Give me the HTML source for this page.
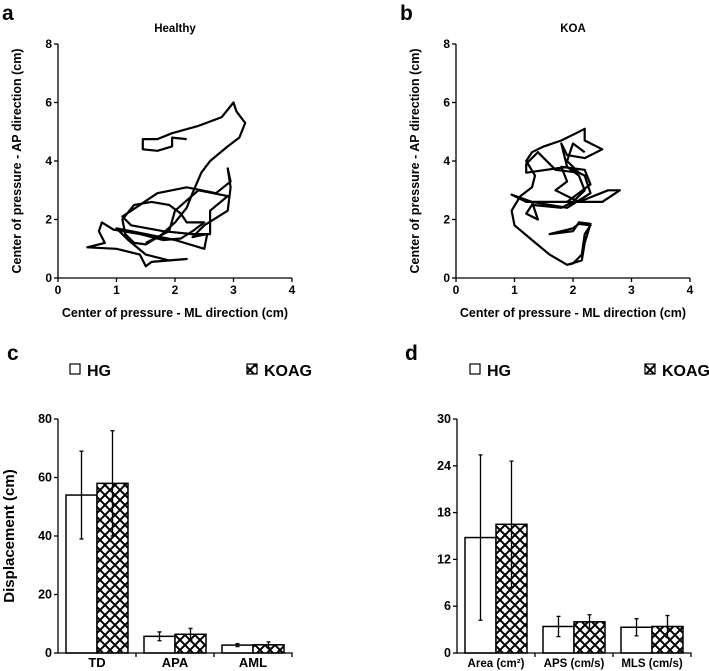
<!DOCTYPE html>
<html><head><meta charset="utf-8"><style>
body{margin:0;background:#fff;}
svg{display:block;font-family:"Liberation Sans",Arial,sans-serif;font-weight:bold;}
</style></head><body>
<svg id="s" width="709" height="671" viewBox="0 0 709 671">
<defs>
<pattern id="hatch" patternUnits="userSpaceOnUse" width="10" height="10">
<rect width="10" height="10" fill="#fff"/>
<path d="M0,0 L10,10 M10,0 L0,10 M-5,5 L5,15 M5,-5 L15,5 M5,15 L15,5 M-5,5 L5,-5" stroke="#000" stroke-width="2"/>
</pattern>
</defs>
</svg>
<script>
// ---- Data ----
const healthyX=[2.2,1.95,1.95,1.7,1.45,1.45,1.7,1.95,2.4,2.8,3.0,3.05,3.2,3.1,2.9,2.6,2.45,2.3,2.2,2.0,1.75,1.5,1.3,1.15,1.1,1.3,1.6,1.9,2.1,2.2,2.5,2.3,2.1,1.8,1.4,0.95,0.75,0.7,0.8,0.5,1.0,1.4,1.5,1.6,2.2,1.9,1.5,1.2,1.0,1.5,2.0,2.5,2.55,2.3,2.5,2.9,2.95,2.9,2.95,2.7,2.2,1.7,1.4,1.1,1.25,1.8,2.3,2.6,2.6,2.9,2.4,2.0,1.9,1.5];
const healthyY=[4.75,4.8,4.5,4.35,4.4,4.75,4.75,4.95,5.2,5.5,6.0,5.7,5.3,4.8,4.5,4.0,3.6,2.9,2.4,1.9,1.45,1.15,1.2,1.5,2.0,2.5,2.6,2.5,2.2,1.9,1.9,1.6,1.35,1.3,1.5,1.65,1.9,1.6,1.2,1.05,1.0,0.8,0.4,0.55,0.65,0.6,0.8,1.3,1.7,1.5,1.3,1.0,1.5,1.4,1.8,2.3,3.1,3.75,3.3,2.9,3.1,2.9,2.5,2.1,1.8,1.6,1.5,1.5,2.3,2.8,3.0,2.3,1.6,1.2];
const koaX=[1.9,2.0,2.15,2.2,2.3,2.1,2.0,1.6,2.0,2.1,2.3,2.2,2.15,1.9,1.6,1.3,1.0,0.95,1.1,1.3,1.35,1.2,1.3,1.5,1.8,2.1,2.2,2.2,2.5,2.2,1.9,1.8,1.9,2.1,2.2,2.0,1.8,1.3,1.2,1.4,1.3,1.8,2.5,2.8,2.6,2.1,1.7,1.9,1.8,2.2,2.3,1.9,1.2,0.95,1.3,1.9,2.3,2.2,1.9,1.2,1.2,1.4,1.7,2.1,1.9,2.0,2.2];
const koaY=[0.45,0.5,0.8,1.5,1.8,1.85,1.7,1.5,1.6,1.9,1.85,1.2,0.6,0.45,0.8,1.3,1.8,2.3,2.8,3.1,3.5,4.0,4.3,4.5,4.7,5.0,5.1,4.7,4.4,4.1,4.2,4.6,3.8,3.5,3.0,2.6,2.4,2.5,2.2,2.0,2.6,2.6,2.6,3.0,3.0,2.6,3.0,3.3,3.8,3.7,3.2,2.6,2.6,2.85,2.6,2.4,2.9,3.5,3.8,3.6,3.9,4.3,3.7,3.6,4.0,4.6,4.3];
const cCategories=["TD","APA","AML"];
const cHG=[54,5.7,2.7], cHGerr=[15,1.5,0.5];
const cKOAG=[58,6.4,2.8], cKOAGerr=[18,2.0,1.0];
const cTicks=[0,20,40,60,80];
const dCategories=["Area (cm²)","APS (cm/s)","MLS (cm/s)"];
const dHG=[14.8,3.4,3.3], dHGerr=[10.6,1.3,1.1];
const dKOAG=[16.5,4.0,3.4], dKOAGerr=[8.1,0.9,1.4];
const dTicks=[0,6,12,18,24,30];
const scatterTicks=[0,2,4,6,8], scatterXTicks=[0,1,2,3,4];

const NS="http://www.w3.org/2000/svg", svg=document.getElementById('s');
function mk(tag,attrs,parent,txt){const e=document.createElementNS(NS,tag);for(const k in attrs)e.setAttribute(k,attrs[k]);if(txt!==undefined)e.textContent=txt;(parent||svg).appendChild(e);return e;}

function text(x,y,t,size,name,anchor,rot){
  const e=mk('text',{x:x,y:y,'font-size':size,'text-anchor':anchor||'middle'},null,t);
  if(rot)e.setAttribute('transform','rotate(-90 '+x+' '+y+')');
  
  
  return e;
}

function scatterPanel(x0,letter,lx,title,xs,ys,nm){
  const x1=x0+234, y0=278, y1=44;
  const sx=v=>x0+(x1-x0)*v/4, sy=v=>y0-(y0-y1)*v/8;
  text(lx,20,letter,21,'panel-label-'+letter,'start');
  text((x0+x1)/2,32,title,11.5,'chart-title-'+letter);
  const ax=mk('path',{d:`M${x0},${y1} V${y0} H${x1}`,stroke:'#000','stroke-width':1.3,fill:'none'});
  
  
  scatterTicks.forEach(t=>{mk('line',{x1:x0-4,x2:x0,y1:sy(t),y2:sy(t),stroke:'#000','stroke-width':1.3});
    text(x0-6,sy(t)+4,String(t),12,'y-tick-'+t,'end');});
  scatterXTicks.forEach(t=>{mk('line',{x1:sx(t),x2:sx(t),y1:y0,y2:y0+4,stroke:'#000','stroke-width':1.3});
    text(sx(t),y0+16,String(t),12,'x-tick-'+t);});
  text((x0+x1)/2,317,'Center of pressure - ML direction (cm)',12.5,'x-axis-title-'+letter);
  text(x0-37,161,'Center of pressure - AP direction (cm)',12.5,'y-axis-title-'+letter,'middle',true);
  const d=xs.map((v,i)=>(i?'L':'M')+sx(v).toFixed(1)+','+sy(ys[i]).toFixed(1)).join(' ');
  const p=mk('path',{d:d,stroke:'#000','stroke-width':2.2,fill:'none','stroke-linejoin':'round'});
  
  
}
scatterPanel(58,'a',2,'Healthy',healthyX,healthyY,'healthy-cop-path');
scatterPanel(456,'b',400,'KOA',koaX,koaY,'koa-cop-path');

function barPanel(x0,letter,lx,cats,hg,hge,ko,koe,ticks,catSize,legHG,legKO,ytitle){
  const x1=x0+234, y0=653, y1=419, max=ticks[ticks.length-1];
  const sy=v=>y0-(y0-y1)*v/max, gw=(x1-x0)/cats.length, bw=31;
  text(lx,360,letter,21,'panel-label-'+letter,'start');
  const s1=mk('rect',{x:legHG,y:364,width:10,height:10,fill:'#fff',stroke:'#000','stroke-width':1.2});
  
  
  text(legHG+17,376,'HG',16,'legend-hg-label','start');
  const s2=mk('rect',{x:legKO,y:364,width:10,height:10,fill:'url(#hatch)',stroke:'#000','stroke-width':1.2});
  
  
  text(legKO+17,376,'KOAG',16,'legend-koag-label','start');
  if(ytitle)text(x0-44,(y0+y1)/2,ytitle,15,'y-axis-title-'+letter,'middle',true);
  cats.forEach((c,i)=>{
    const cx=x0+gw*(i+0.5);
    [[hg[i],hge[i],'#fff','hg'],[ko[i],koe[i],'url(#hatch)','koag']].forEach((b,j)=>{
      const bx=j?cx:cx-bw;
      const r=mk('rect',{x:bx,y:sy(b[0]),width:bw,height:y0-sy(b[0]),fill:b[2],stroke:'#000','stroke-width':1.5});
      
      
      const ex=bx+bw/2;
      const e=mk('path',{d:`M${ex},${sy(b[0]-b[1])} V${sy(b[0]+b[1])} M${ex-2},${sy(b[0]-b[1])} h4 M${ex-2},${sy(b[0]+b[1])} h4`,stroke:'#000','stroke-width':1.3,fill:'none'});
      
      
    });
    text(cx,y0+14,c,catSize,'category-label-'+i);
    if(i>0)mk('line',{x1:x0+gw*i,x2:x0+gw*i,y1:y0,y2:y0+4,stroke:'#000','stroke-width':1.3});
  });
  const ax=mk('path',{d:`M${x0},${y1} V${y0} H${x1} v4`,stroke:'#000','stroke-width':1.3,fill:'none'});
  
  
  ticks.forEach(t=>{mk('line',{x1:x0-4,x2:x0,y1:sy(t),y2:sy(t),stroke:'#000','stroke-width':1.3});
    text(x0-6,sy(t)+4,String(t),12.5,'y-tick-'+t,'end');});
}
barPanel(58,'c',7,cCategories,cHG,cHGerr,cKOAG,cKOAGerr,cTicks,13,70,247,'Displacement (cm)');
barPanel(457,'d',405,dCategories,dHG,dHGerr,dKOAG,dKOAGerr,dTicks,11.5,470,645,null);
</script>
</body></html>
